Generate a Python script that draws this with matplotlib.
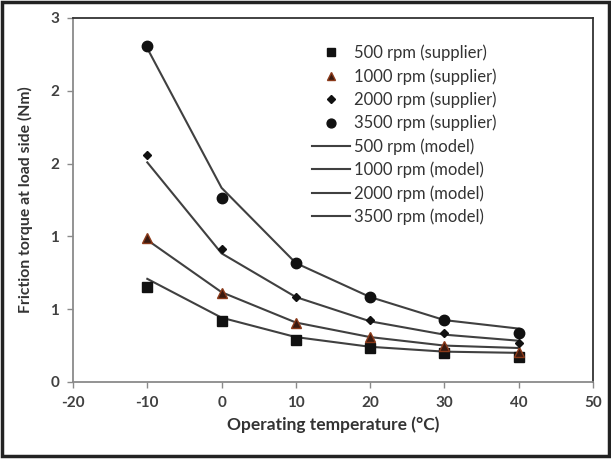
import matplotlib.pyplot as plt
from matplotlib.patches import Rectangle
from matplotlib.ticker import FormatStrFormatter, MultipleLocator

plt.rcParams["font.family"] = ["Lato", "DejaVu Sans"]
plt.rcParams["axes.unicode_minus"] = False

temps = [-10, 0, 10, 20, 30, 40]
speeds = ["500", "1000", "2000", "3500"]

supplier_500 = [0.78, 0.50, 0.35, 0.28, 0.24, 0.21]
supplier_1000 = [1.19, 0.73, 0.49, 0.37, 0.30, 0.25]
supplier_2000 = [1.87, 1.10, 0.70, 0.51, 0.40, 0.32]
supplier_3500 = [2.77, 1.52, 0.98, 0.70, 0.51, 0.40]

model_500 = [0.85, 0.53, 0.37, 0.29, 0.25, 0.24]
model_1000 = [1.17, 0.74, 0.49, 0.37, 0.30, 0.28]
model_2000 = [1.81, 1.06, 0.70, 0.50, 0.39, 0.34]
model_3500 = [2.75, 1.60, 0.98, 0.70, 0.51, 0.44]

supplier = [supplier_500, supplier_1000, supplier_2000, supplier_3500]
model = [model_500, model_1000, model_2000, model_3500]

markers = ["s", "^", "D", "o"]
marker_sizes = [6.5, 7.5, 4.5, 7.5]
marker_colors = ["#111111", "#3a1a10", "#111111", "#111111"]
marker_edges = ["#111111", "#8b3a1a", "#111111", "#111111"]
line_color = "#404040"

fig = plt.figure(figsize=(6.11, 4.59), dpi=100)
ax = fig.add_axes([0.1195, 0.1678, 0.8510, 0.7930])

handles = []
for spd, ys, m, ms, fc, ec in zip(speeds, supplier, markers, marker_sizes, marker_colors, marker_edges):
    h, = ax.plot(temps, ys, linestyle="none", marker=m, markersize=ms,
                 markerfacecolor=fc, markeredgecolor=ec, zorder=3,
                 label=f"{spd} rpm (supplier)")
    handles.append(h)
for spd, ys in zip(speeds, model):
    h, = ax.plot(temps, ys, color=line_color, linewidth=1.5, zorder=2,
                 label=f"{spd} rpm (model)")
    handles.append(h)

ax.set_xlim(-20, 50)
ax.set_ylim(0, 3)
ax.xaxis.set_major_locator(MultipleLocator(10))
ax.yaxis.set_major_locator(MultipleLocator(0.6))
ax.yaxis.set_major_formatter(FormatStrFormatter("%.0f"))

for side in ["top", "right"]:
    ax.spines[side].set_color("#333333")
    ax.spines[side].set_linewidth(1.3)
for side in ["left", "bottom"]:
    ax.spines[side].set_color("#8a8a8a")
    ax.spines[side].set_linewidth(1.3)
ax.tick_params(axis="both", direction="out", length=4, width=1, color="#8a8a8a",
               labelsize=11, labelcolor="#404040", pad=6)
for lbl in ax.get_xticklabels() + ax.get_yticklabels():
    lbl.set_fontweight("bold")

ax.set_xlabel("Operating temperature (°C)", fontsize=12.5, fontweight="bold",
              color="#333333", labelpad=5)
ax.set_ylabel("Friction torque at load side (Nm)", fontsize=11.3, fontweight="bold",
              color="#333333", labelpad=12)

ax.legend(handles=handles, loc="upper left", bbox_to_anchor=(0.446, 0.945),
          frameon=False, fontsize=12, handlelength=2.3, handletextpad=0.25,
          labelspacing=0.41, labelcolor="#333333", markerscale=0.85,
          borderaxespad=0)

fig.patches.append(Rectangle((0.004, 0.006), 0.992, 0.99, transform=fig.transFigure,
                             fill=False, edgecolor="#222222", linewidth=2.5))

fig.savefig("out.png", dpi=100)
plt.close(fig)
